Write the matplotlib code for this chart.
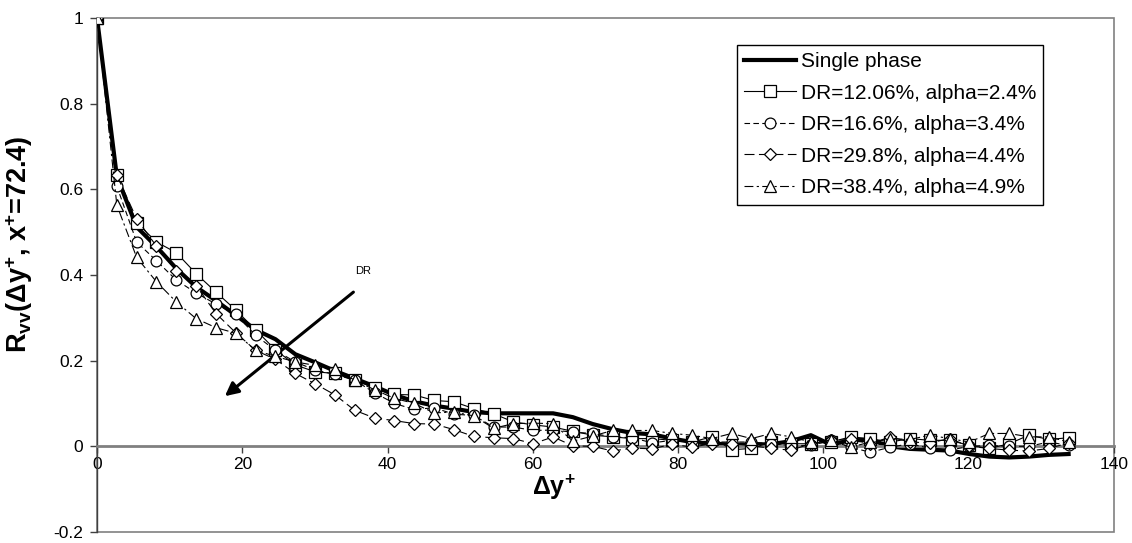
import matplotlib
matplotlib.use('Agg')
import matplotlib.pyplot as plt
from matplotlib.patches import Rectangle

plt.rcParams['font.family'] = ['Liberation Sans', 'DejaVu Sans']
plt.rcParams['mathtext.fontset'] = 'custom'
plt.rcParams['mathtext.rm'] = 'Liberation Sans'
plt.rcParams['mathtext.bf'] = 'Liberation Sans:bold'
plt.rcParams['mathtext.default'] = 'bf'

# separation in wall units
dy_plus = [0.00, 2.73, 5.46, 8.19, 10.92, 13.65, 16.38, 19.11, 21.84, 24.57,
           27.30, 30.03, 32.76, 35.49, 38.22, 40.95, 43.68, 46.41, 49.14, 51.87,
           54.60, 57.33, 60.06, 62.79, 65.52, 68.25, 70.98, 73.71, 76.44, 79.17,
           81.90, 84.63, 87.36, 90.09, 92.82, 95.55, 98.28, 101.01, 103.74, 106.47,
           109.20, 111.93, 114.66, 117.39, 120.12, 122.85, 125.58, 128.31, 131.04, 133.77]

r_single = [1.0, 0.63, 0.512, 0.466, 0.415, 0.372, 0.34, 0.306, 0.272, 0.25,
            0.215, 0.196, 0.176, 0.158, 0.14, 0.12, 0.105, 0.095, 0.088, 0.08,
            0.077, 0.077, 0.077, 0.077, 0.068, 0.052, 0.04, 0.031, 0.028, 0.018,
            0.01, 0.006, 0.004, 0.004, 0.005, 0.012, 0.026, 0.004, 0.014, 0.015,
            0.0, -0.006, -0.008, -0.01, -0.018, -0.024, -0.026, -0.024, -0.02, -0.018]

r_dr12 = [1.0, 0.633, 0.522, 0.477, 0.452, 0.403, 0.36, 0.318, 0.272, 0.225,
          0.19, 0.174, 0.17, 0.154, 0.137, 0.121, 0.12, 0.107, 0.104, 0.088,
          0.076, 0.057, 0.05, 0.045, 0.035, 0.026, 0.022, 0.018, 0.018, 0.014,
          0.01, 0.022, -0.008, -0.005, 0.01, 0.006, 0.006, 0.01, 0.022, 0.018,
          0.01, 0.018, 0.014, 0.014, 0.002, -0.005, 0.006, 0.026, 0.016, 0.02]

r_dr16 = [1.0, 0.607, 0.477, 0.433, 0.388, 0.358, 0.332, 0.308, 0.259, 0.224,
          0.197, 0.178, 0.168, 0.154, 0.125, 0.1, 0.086, 0.09, 0.075, 0.072,
          0.045, 0.045, 0.037, 0.038, 0.033, 0.03, 0.022, 0.02, 0.008, 0.014,
          0.014, 0.01, 0.01, 0.01, 0.006, 0.002, 0.002, 0.014, -0.002, -0.014,
          -0.002, 0.006, -0.005, -0.009, 0.0, 0.002, 0.0, 0.0, 0.01, 0.002]

r_dr29 = [1.0, 0.633, 0.531, 0.467, 0.41, 0.375, 0.31, 0.265, 0.224, 0.203,
          0.17, 0.146, 0.12, 0.084, 0.066, 0.06, 0.053, 0.052, 0.039, 0.023,
          0.02, 0.018, 0.006, 0.022, 0.001, 0.0, -0.011, -0.004, -0.006, 0.005,
          -0.002, 0.006, 0.006, 0.002, -0.005, -0.009, 0.006, 0.014, 0.016, 0.006,
          0.022, 0.01, 0.008, 0.018, 0.0, -0.005, -0.009, -0.011, -0.005, 0.008]

r_dr38 = [1.0, 0.563, 0.441, 0.384, 0.337, 0.298, 0.277, 0.264, 0.224, 0.21,
          0.197, 0.189, 0.181, 0.154, 0.132, 0.112, 0.1, 0.078, 0.08, 0.071,
          0.042, 0.053, 0.054, 0.053, 0.012, 0.024, 0.037, 0.037, 0.037, 0.03,
          0.026, 0.018, 0.03, 0.018, 0.03, 0.022, 0.01, 0.014, -0.002, 0.01,
          0.018, 0.016, 0.026, 0.018, 0.01, 0.03, 0.03, 0.022, 0.022, 0.01]

labels = ['Single phase',
          'DR=12.06%, alpha=2.4%',
          'DR=16.6%, alpha=3.4%',
          'DR=29.8%, alpha=4.4%',
          'DR=38.4%, alpha=4.9%']

x_ticks = [0, 20, 40, 60, 80, 100, 120, 140]
y_ticks = [-0.2, 0, 0.2, 0.4, 0.6, 0.8, 1]
y_tick_labels = ['-0.2', '0', '0.2', '0.4', '0.6', '0.8', '1']

fig = plt.figure(figsize=(11.32, 5.43), dpi=100)
ax = fig.add_axes([0.0857, 0.0203, 0.8983, 0.9466])

ax.plot(dy_plus, r_single, color='black', lw=3.0, label=labels[0], zorder=2)

# two-phase cases: thin lines with hollow markers
styles = [
    (r_dr12, 's', 8.0, '-'),
    (r_dr16, 'o', 7.8, (0, (5, 3))),
    (r_dr29, 'D', 5.8, (0, (9, 4))),
    (r_dr38, '^', 8.0, (0, (8, 3, 2, 3))),
]
for k, (vals, mk, ms, ls) in enumerate(styles):
    ax.plot(dy_plus, vals, color='black', lw=0.8, linestyle=ls, marker=mk,
            markersize=ms, markerfacecolor='white', markeredgecolor='black',
            markeredgewidth=0.9, label=labels[k + 1], zorder=3 + k)

ax.set_xlim(0, 140)
ax.set_ylim(-0.2, 1)
ax.set_xticks(x_ticks)
ax.set_yticks(y_ticks)
ax.set_yticklabels(y_tick_labels)
ax.tick_params(axis='both', labelsize=12.5, direction='out', length=5, width=1,
               color='#404040')
ax.tick_params(axis='x', pad=3)
ax.tick_params(axis='y', pad=5)

# category axis crosses at zero
ax.spines['bottom'].set_position(('data', 0))
ax.spines['bottom'].set_color('#808080')
ax.spines['bottom'].set_linewidth(2)
ax.spines['left'].set_color('#404040')
ax.spines['left'].set_linewidth(1)
for side in ['top', 'right']:
    ax.spines[side].set_visible(False)
ax.add_patch(Rectangle((0, 0), 1, 1, transform=ax.transAxes, fill=False,
                       edgecolor='#808080', lw=1.2, clip_on=False, zorder=0))

ax.set_xlabel(r'Δy$^{+}$', fontsize=18, fontweight='bold')
ax.xaxis.set_label_coords(0.449, 0.116)
ax.set_ylabel(r'R$_{vv}$(Δy$^{+}$, x$^{+}$=72.4)', fontsize=19.5,
              fontweight='bold')
ax.yaxis.set_label_coords(-0.061, 0.56)

# trend arrow for increasing drag reduction
ax.annotate('', xy=(17.6, 0.117), xytext=(35.3, 0.36),
            arrowprops=dict(arrowstyle='-|>', color='black', lw=2.2,
                            mutation_scale=20, shrinkA=0, shrinkB=0))
ax.text(35.6, 0.41, 'DR', fontsize=8, ha='left', va='center')

leg = ax.legend(loc='upper left', bbox_to_anchor=(737 / 1132, 1 - 45 / 543),
                bbox_transform=fig.transFigure, borderaxespad=0, fontsize=15,
                frameon=True, fancybox=False, framealpha=1, edgecolor='black',
                handlelength=2.5, handletextpad=0.2, labelspacing=0.6,
                borderpad=0.35)
leg.get_frame().set_linewidth(1)

fig.savefig('out.png', dpi=100)
